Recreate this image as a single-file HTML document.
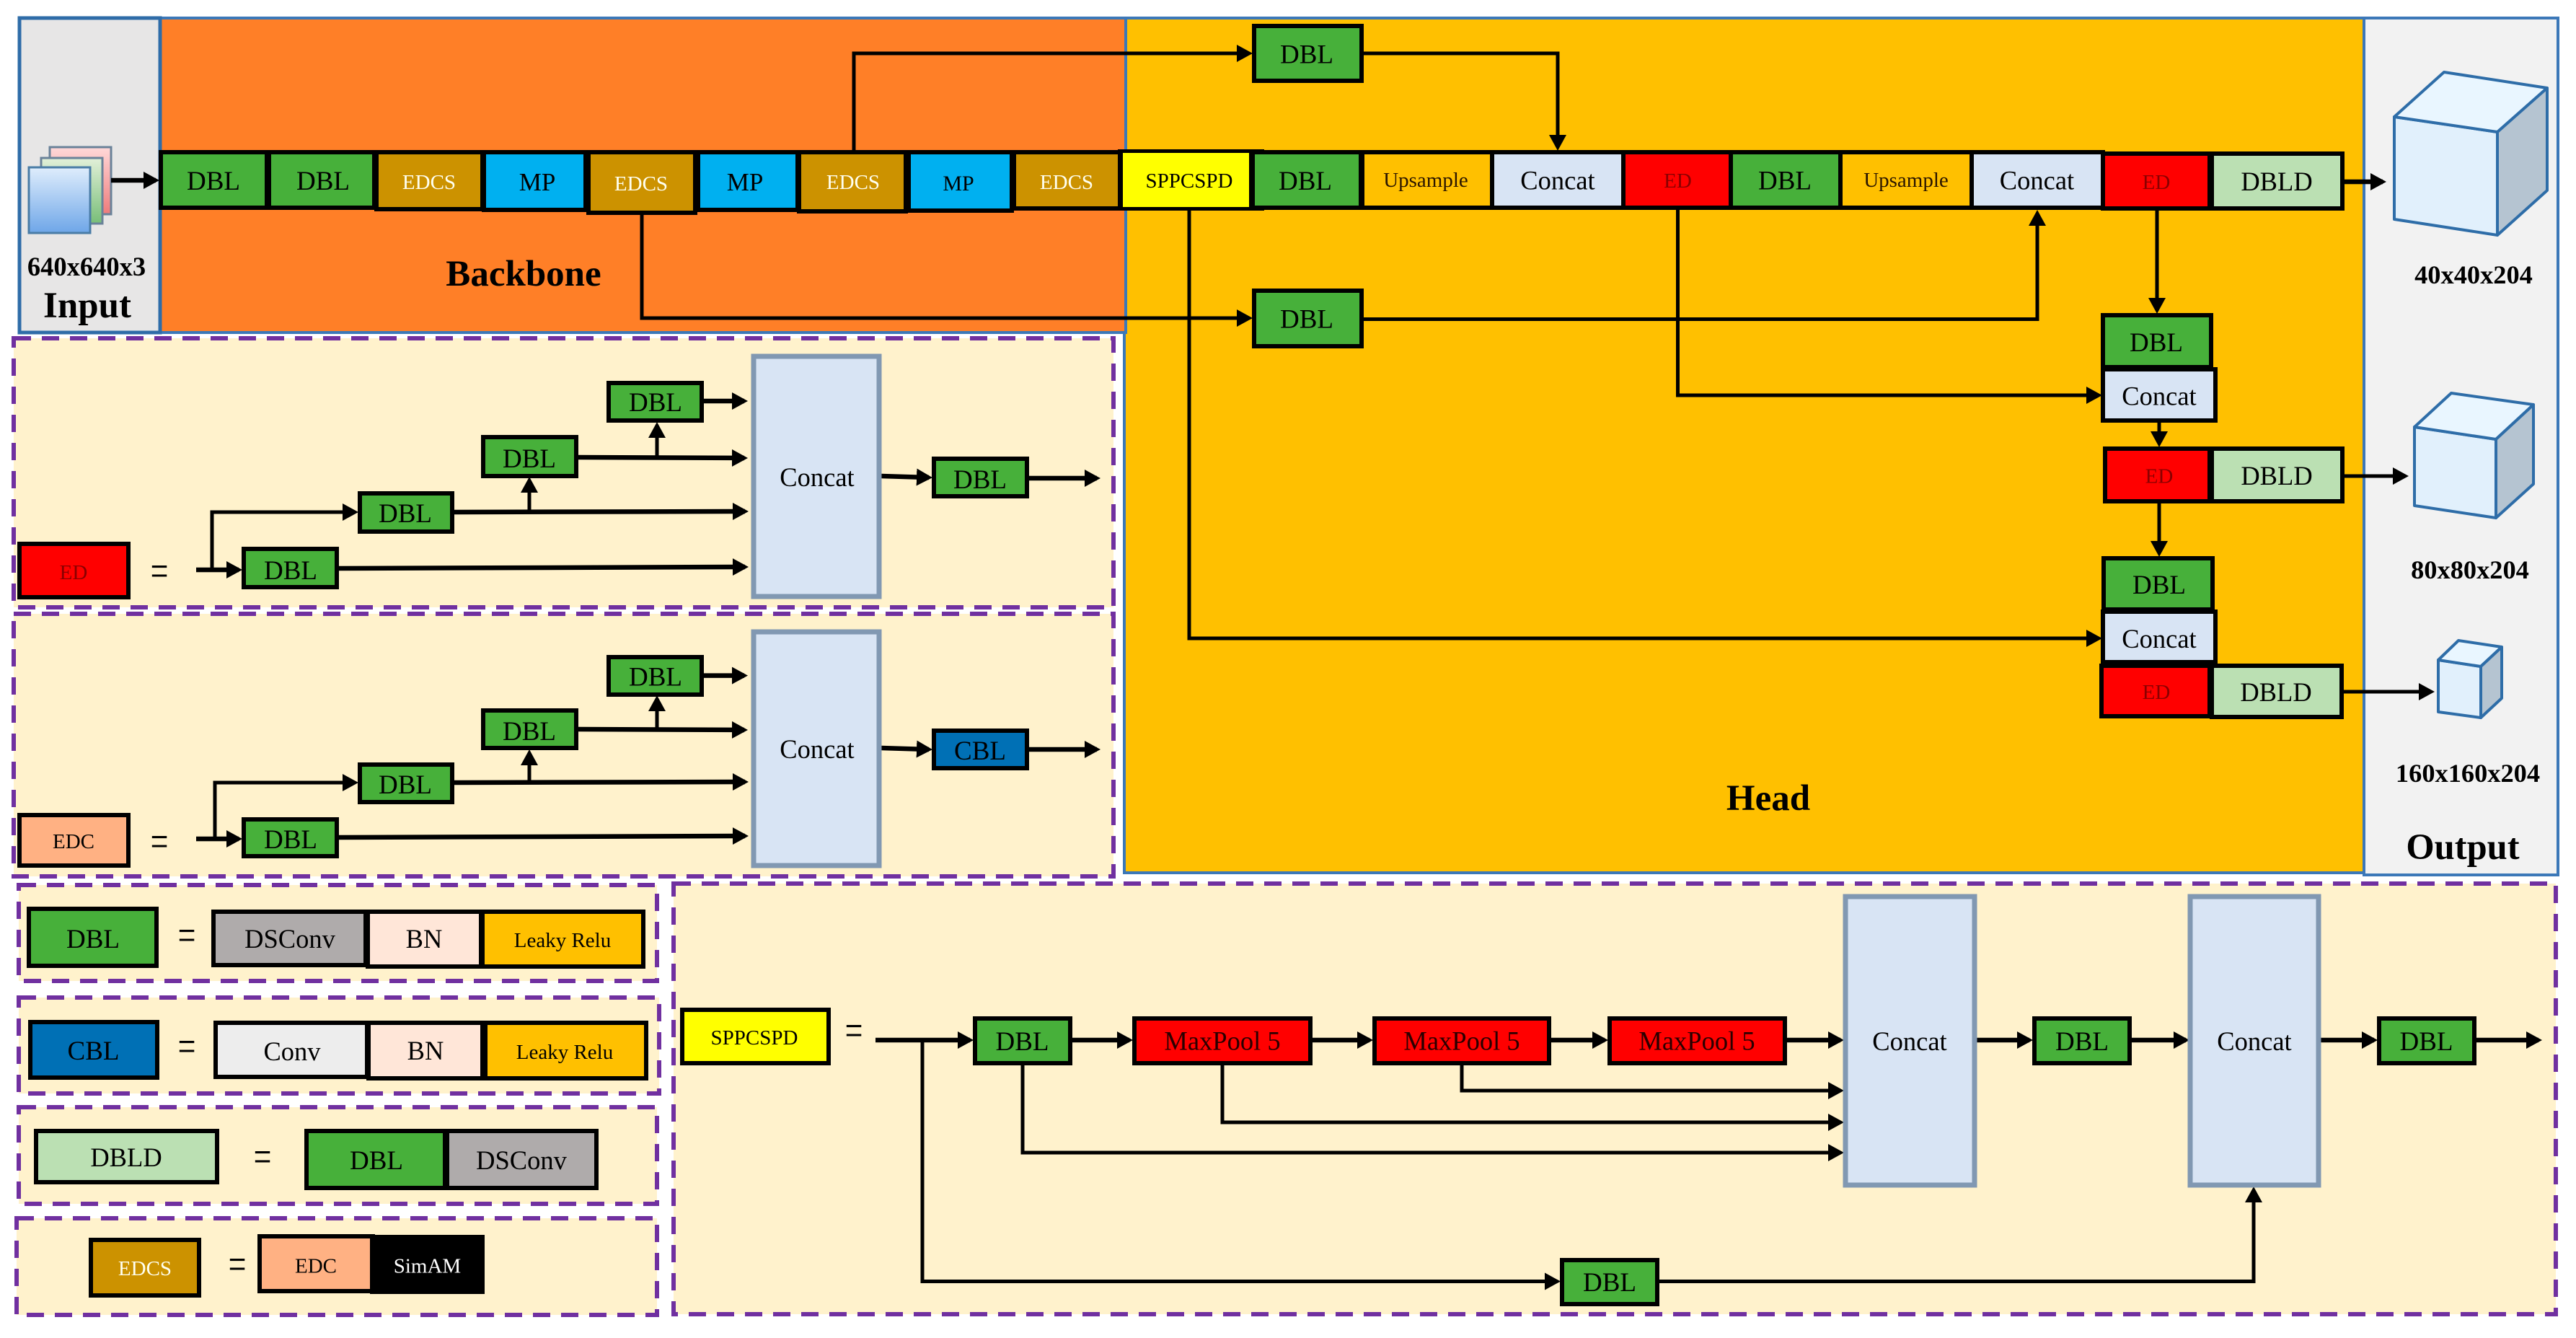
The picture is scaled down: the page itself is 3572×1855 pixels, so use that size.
<!DOCTYPE html>
<html><head><meta charset="utf-8">
<style>
html,body{margin:0;padding:0;background:#fff;width:3572px;height:1855px;overflow:hidden}
svg{display:block}
text{font-family:"Liberation Serif","Times New Roman",serif;text-anchor:middle;fill:#000}
.k{stroke:#000;stroke-width:6}
.p{fill:#FFF2CC;stroke:#7030A0;stroke-width:6;stroke-dasharray:24 15}
.c{fill:#D8E4F4;stroke:#8198B2;stroke-width:7}
.g{fill:#47B03A}.e{fill:#CC9200}.m{fill:#00B0F0}.r{fill:#F00}.o{fill:#FFC000}.b{fill:#D8E4F4}.d{fill:#BBE0B3}.s{fill:#AFABAB}.n{fill:#FFE6D8}
.a{fill:none;stroke:#000;stroke-width:5;marker-end:url(#h)}
.t{fill:none;stroke:#000;stroke-width:6.500;marker-end:url(#h)}
.f37{font-size:37px}.f29{font-size:29px}.f36{font-size:36.5px}
.bd{font-weight:bold}
.w{fill:#FFFFF0}
.dr{fill:#8A0000}
.mp{fill:#2A0000}
.cube{stroke:#2E6DA8;stroke-width:4;stroke-linejoin:round}
</style></head><body>
<svg width="3572" height="1855" viewBox="0 0 3572 1855" xmlns="http://www.w3.org/2000/svg">
<defs>
<marker id="h" markerUnits="userSpaceOnUse" markerWidth="24" markerHeight="26" refX="17" refY="12" orient="auto"><path d="M0 0L22 12L0 24Z" fill="#000"/></marker>
<linearGradient id="gb" x1="0" y1="0" x2="0" y2="1"><stop offset="0" stop-color="#DFEDFC"/><stop offset="1" stop-color="#6EA6E8"/></linearGradient>
<linearGradient id="gg" x1="0" y1="0" x2="0" y2="1"><stop offset="0" stop-color="#E2F0D9"/><stop offset="1" stop-color="#78BE78"/></linearGradient>
<linearGradient id="gp" x1="0" y1="0" x2="0" y2="1"><stop offset="0" stop-color="#FFD9D9"/><stop offset="1" stop-color="#EE7B7B"/></linearGradient>
</defs>

<!-- sections -->
<rect x="1559" y="25" width="1719" height="1185" fill="#FFC000" stroke="#3C78B8" stroke-width="4"/>
<rect x="222" y="25" width="1339" height="436" fill="#FF7F27" stroke="#3C78B8" stroke-width="4"/>
<rect x="27" y="25" width="195" height="436" fill="#E7E6E6" stroke="#2F6CA8" stroke-width="5"/>
<rect x="3278" y="25" width="269" height="1188" fill="#F2F2F2" stroke="#3C78B8" stroke-width="4"/>

<!-- dashed panels -->
<rect class="p" x="19" y="469" width="1525" height="373"/>
<rect class="p" x="19" y="851" width="1525" height="364"/>
<rect class="p" x="26" y="1227" width="885" height="133"/>
<rect class="p" x="26" y="1383" width="888" height="133"/>
<rect class="p" x="26" y="1535" width="885" height="134"/>
<rect class="p" x="23" y="1689" width="888" height="134"/>
<rect class="p" x="934" y="1225" width="2610" height="597"/>

<!-- input stack -->
<rect x="69" y="204" width="85" height="93" fill="url(#gp)" stroke="#6A8299" stroke-width="3"/>
<rect x="57" y="219" width="85" height="91" fill="url(#gg)" stroke="#6A8299" stroke-width="3"/>
<rect x="40" y="232" width="85" height="91" fill="url(#gb)" stroke="#4A7CA6" stroke-width="3"/>
<path class="t" d="M154 250H216"/>
<text class="bd" x="120" y="382" font-size="36.5">640x640x3</text>
<text class="bd" x="121" y="440" font-size="51">Input</text>
<text class="bd" x="726" y="396" font-size="51">Backbone</text>
<text class="bd" x="2452" y="1123" font-size="51">Head</text>
<text class="bd" x="3415" y="1191" font-size="50.5">Output</text>
<text class="bd" x="3430" y="393" font-size="36.4">40x40x204</text>
<text class="bd" x="3425" y="802" font-size="36.4">80x80x204</text>
<text class="bd" x="3422" y="1084" font-size="36.4">160x160x204</text>

<!-- main connectors -->
<path class="a" d="M1184 208V74H1732"/>
<path class="a" d="M1891 74H2160V204"/>
<path class="a" d="M890 297V441H1732"/>
<path class="a" d="M1891 442.5H2825V296"/>
<path class="a" d="M1649 292V885H2910"/>
<path class="a" d="M2326.500 291V548H2910"/>
<path class="a" d="M2991 292V430"/>
<path class="a" d="M2994 586V615"/>
<path class="a" d="M2994 698V767"/>
<path class="t" d="M3251 252H3304"/>
<path class="a" d="M3251 660H3335"/>
<path class="a" d="M3250 959H3371"/>

<!-- backbone row -->
<rect class="k g" x="223" y="211" width="147" height="77"/><text class="f37" x="296" y="263">DBL</text>
<rect class="k g" x="373" y="211" width="146" height="77"/><text class="f37" x="448" y="263">DBL</text>
<rect class="k e" x="522" y="211" width="147" height="79"/><text class="f29 w" x="595" y="262">EDCS</text>
<rect class="k m" x="671" y="211" width="141" height="80"/><text x="745" y="264" font-size="35">MP</text>
<rect class="k e" x="816" y="211" width="148" height="84"/><text class="f29 w" x="889" y="264">EDCS</text>
<rect class="k m" x="968" y="211" width="138" height="80"/><text x="1033" y="264" font-size="35">MP</text>
<rect class="k e" x="1108" y="211" width="148" height="82"/><text class="f29 w" x="1183" y="262">EDCS</text>
<rect class="k m" x="1260" y="211" width="143" height="81"/><text x="1329" y="264" font-size="30">MP</text>
<rect class="k e" x="1406" y="211" width="149" height="78"/><text class="f29 w" x="1479" y="262">EDCS</text>
<rect x="1550" y="207" width="203" height="85" fill="#000"/>
<rect x="1557" y="212" width="175" height="75" fill="#FF0"/><text class="f29" x="1649" y="260">SPPCSPD</text>
<rect class="k g" x="1737" y="211" width="150" height="77"/><text class="f37" x="1810" y="263">DBL</text>
<rect class="k o" x="1889" y="211" width="180" height="77"/><text class="f29" x="1977" y="259" style="fill:#2A1500">Upsample</text>
<rect class="k b" x="2069" y="211" width="182" height="77"/><text class="f36" x="2160" y="262.500">Concat</text>
<rect class="k r" x="2251" y="211" width="149" height="77"/><text class="f29 dr" x="2326.500" y="260">ED</text>
<rect class="k g" x="2400" y="211" width="152" height="77"/><text class="f37" x="2475" y="262.500">DBL</text>
<rect class="k o" x="2552" y="211" width="182" height="77"/><text class="f29" x="2643" y="259" style="fill:#2A1500">Upsample</text>
<rect class="k b" x="2734" y="211" width="182" height="77"/><text class="f36" x="2824.500" y="262.500">Concat</text>
<rect class="k r" x="2916" y="213" width="148" height="76"/><text class="f29 dr" x="2990" y="262">ED</text>
<rect class="k d" x="3067" y="213" width="181" height="76"/><text class="f36" x="3157" y="264">DBLD</text>

<!-- skip DBLs -->
<rect class="k g" x="1739" y="36" width="149" height="76"/><text class="f37" x="1812" y="87.400">DBL</text>
<rect class="k g" x="1739" y="403" width="149" height="77"/><text class="f37" x="1812" y="454.700">DBL</text>

<!-- head column -->
<rect class="k g" x="2916" y="437" width="150" height="72"/><text class="f37" x="2990" y="487">DBL</text>
<rect class="k b" x="2916" y="512" width="156" height="71"/><text class="f36" x="2994" y="561.500">Concat</text>
<rect class="k r" x="2919" y="622" width="145" height="73"/><text class="f29 dr" x="2994" y="669.400">ED</text>
<rect class="k d" x="3067" y="622" width="181" height="73"/><text class="f36" x="3157" y="672">DBLD</text>
<rect class="k g" x="2917" y="774" width="151" height="71"/><text class="f37" x="2994" y="823">DBL</text>
<rect class="k b" x="2916" y="848" width="156" height="70"/><text class="f36" x="2994" y="898">Concat</text>
<rect class="k r" x="2914" y="923" width="150" height="70"/><text class="f29 dr" x="2990" y="969">ED</text>
<rect class="k d" x="3067" y="923" width="180" height="71"/><text class="f36" x="3156" y="972">DBLD</text>

<!-- cubes -->
<polygon class="cube" fill="#E1F0FC" points="3320,162 3463,183 3463,326 3320,304"/>
<polygon class="cube" fill="#E9F6FF" points="3320,162 3389,100 3532,122 3463,183"/>
<polygon class="cube" fill="#B5C4D1" points="3463,183 3532,122 3532,264 3463,326"/>
<polygon class="cube" fill="#E1F0FC" points="3348,592 3399,545 3461,609 3461,718 3348,701" style="display:none"/>
<polygon class="cube" fill="#E1F0FC" points="3348,592 3461,609 3461,718 3348,701"/>
<polygon class="cube" fill="#E9F6FF" points="3348,592 3399,545 3513,561 3461,609"/>
<polygon class="cube" fill="#B5C4D1" points="3461,609 3513,561 3513,671 3461,718"/>
<polygon class="cube" fill="#E1F0FC" points="3381,915 3440,924 3440,995 3381,987"/>
<polygon class="cube" fill="#E9F6FF" points="3381,915 3409,888 3469,897 3440,924"/>
<polygon class="cube" fill="#B5C4D1" points="3440,924 3469,897 3469,968 3440,995"/>

<!-- ED panel -->
<path class="t" d="M272 790H331"/>
<path class="a" d="M294 790V710H492"/>
<path class="t" d="M470 788L1033 786"/>
<path class="t" d="M630 710L1033 709"/>
<path class="a" d="M734 709V666"/>
<path class="t" d="M802 634L1032 635"/>
<path class="a" d="M911 635V590"/>
<path class="t" d="M975 556H1032"/>
<path class="t" d="M1222 660L1288 662"/>
<path class="t" d="M1427 663H1521"/>
<rect class="k r" x="27" y="754" width="151" height="74"/><text class="f29 dr" x="102" y="803">ED</text>
<text transform="translate(221,812) scale(1,1.4)" font-size="44">=</text>
<rect class="k g" x="338" y="761" width="129" height="53"/><text class="f37" x="403" y="803">DBL</text>
<rect class="k g" x="499" y="684" width="128" height="53"/><text class="f37" x="562" y="724">DBL</text>
<rect class="k g" x="670" y="606" width="129" height="54"/><text class="f37" x="734" y="648">DBL</text>
<rect class="k g" x="844" y="531" width="129" height="52"/><text class="f37" x="909" y="570">DBL</text>
<rect class="c" x="1045" y="494" width="174" height="333"/><text class="f36" x="1133" y="674">Concat</text>
<rect class="k g" x="1295" y="636" width="129" height="52"/><text class="f37" x="1359" y="677">DBL</text>

<!-- EDC panel -->
<path class="t" d="M272 1163H331"/>
<path class="a" d="M298 1163V1085H492"/>
<path class="t" d="M470 1161L1033 1159"/>
<path class="t" d="M630 1085L1033 1084"/>
<path class="a" d="M734 1084V1044"/>
<path class="t" d="M802 1011L1032 1012"/>
<path class="a" d="M911 1012V969"/>
<path class="t" d="M975 936.600H1032"/>
<path class="t" d="M1222 1037L1288 1039"/>
<path class="t" d="M1427 1039H1521"/>
<rect class="k" fill="#FFB183" x="27" y="1130" width="151" height="70"/><text class="f29" x="102" y="1176">EDC</text>
<text transform="translate(221,1187) scale(1,1.4)" font-size="44">=</text>
<rect class="k g" x="338" y="1136" width="129" height="51"/><text class="f37" x="403" y="1176">DBL</text>
<rect class="k g" x="499" y="1060" width="128" height="52"/><text class="f37" x="562" y="1100">DBL</text>
<rect class="k g" x="670" y="985" width="129" height="52"/><text class="f37" x="734" y="1026">DBL</text>
<rect class="k g" x="844" y="911" width="129" height="52"/><text class="f37" x="909" y="950.500">DBL</text>
<rect class="c" x="1045" y="876" width="174" height="324"/><text class="f36" x="1133" y="1051">Concat</text>
<rect class="k" fill="#0070B5" x="1295" y="1013" width="129" height="52"/><text class="f37" x="1359" y="1053">CBL</text>

<!-- DBL legend -->
<rect class="k g" x="40" y="1260" width="177" height="79"/><text class="f37" x="129" y="1314">DBL</text>
<text transform="translate(259,1317) scale(1,1.4)" font-size="44">=</text>
<rect class="k s" x="296" y="1264" width="211" height="74"/><text class="f36" x="402" y="1314">DSConv</text>
<rect class="k n" x="510" y="1264" width="157" height="76"/><text class="f36" x="588" y="1314">BN</text>
<rect class="k o" x="669" y="1264" width="223" height="76"/><text class="f29" x="780" y="1313">Leaky Relu</text>

<!-- CBL legend -->
<rect class="k" fill="#0070B5" x="42" y="1417" width="176" height="77"/><text class="f37" x="129.500" y="1469">CBL</text>
<text transform="translate(259,1471) scale(1,1.4)" font-size="44">=</text>
<rect class="k" fill="#EDEDED" x="299" y="1418" width="210" height="75"/><text class="f36" x="405" y="1470">Conv</text>
<rect class="k n" x="511" y="1418" width="158" height="77"/><text class="f36" x="590" y="1469">BN</text>
<rect class="k o" x="673" y="1418" width="223" height="77"/><text class="f29" x="783" y="1468">Leaky Relu</text>

<!-- DBLD legend -->
<rect class="k d" x="50" y="1568" width="251" height="71"/><text class="f36" x="175" y="1617">DBLD</text>
<text transform="translate(364,1624) scale(1,1.4)" font-size="44">=</text>
<rect class="k g" x="425" y="1568" width="192" height="79"/><text class="f37" x="522" y="1621">DBL</text>
<rect class="k s" x="620" y="1568" width="207" height="79"/><text class="f36" x="723" y="1621">DSConv</text>

<!-- EDCS legend -->
<rect class="k e" x="126" y="1719" width="150" height="77"/><text class="f29 w" x="201" y="1768">EDCS</text>
<text transform="translate(329,1773) scale(1,1.4)" font-size="44">=</text>
<rect class="k" fill="#FFB183" x="360" y="1714" width="157" height="76"/><text class="f29" x="438" y="1764.500">EDC</text>
<rect x="513" y="1712" width="159" height="82" fill="#000"/><text class="f29" style="fill:#fff" x="592.500" y="1764.500">SimAM</text>

<!-- SPPCSPD panel -->
<path class="t" d="M1214 1442H1345"/>
<path class="t" d="M1487 1442H1566"/>
<path class="t" d="M1819 1442H1899"/>
<path class="t" d="M2151 1442H2225"/>
<path class="t" d="M2478 1442H2552"/>
<path class="t" d="M2741 1442H2814"/>
<path class="t" d="M2956 1442H3031"/>
<path class="t" d="M3218 1442H3292"/>
<path class="t" d="M3434 1442H3520"/>
<path class="a" d="M1418 1477V1598H2552"/>
<path class="a" d="M1695 1477V1556H2552"/>
<path class="a" d="M2027 1477V1512H2552"/>
<path class="a" d="M1279 1442V1776.500H2159"/>
<path class="a" d="M2301 1776.500H3125V1650"/>
<rect class="k" fill="#FF0" x="946" y="1400" width="203" height="74"/><text class="f29" x="1046" y="1448">SPPCSPD</text>
<text transform="translate(1184,1449) scale(1,1.4)" font-size="44">=</text>
<rect class="k g" x="1352" y="1412" width="132" height="62"/><text class="f37" x="1417.500" y="1456">DBL</text>
<rect class="k r" x="1573" y="1412" width="244" height="62"/><text class="f36 mp" x="1695" y="1455.600">MaxPool 5</text>
<rect class="k r" x="1906" y="1412" width="242" height="62"/><text class="f36 mp" x="2027" y="1455.600">MaxPool 5</text>
<rect class="k r" x="2232" y="1412" width="243" height="62"/><text class="f36 mp" x="2353" y="1455.600">MaxPool 5</text>
<rect class="c" x="2559" y="1243" width="179" height="400"/><text class="f36" x="2648" y="1456">Concat</text>
<rect class="k g" x="2821" y="1412" width="132" height="62"/><text class="f37" x="2887" y="1456">DBL</text>
<rect class="c" x="3037" y="1243" width="178" height="400"/><text class="f36" x="3126" y="1456">Concat</text>
<rect class="k g" x="3299" y="1412" width="132" height="62"/><text class="f37" x="3364.500" y="1456">DBL</text>
<rect class="k g" x="2166" y="1747" width="132" height="61"/><text class="f37" x="2232" y="1790">DBL</text>
</svg>
</body></html>
